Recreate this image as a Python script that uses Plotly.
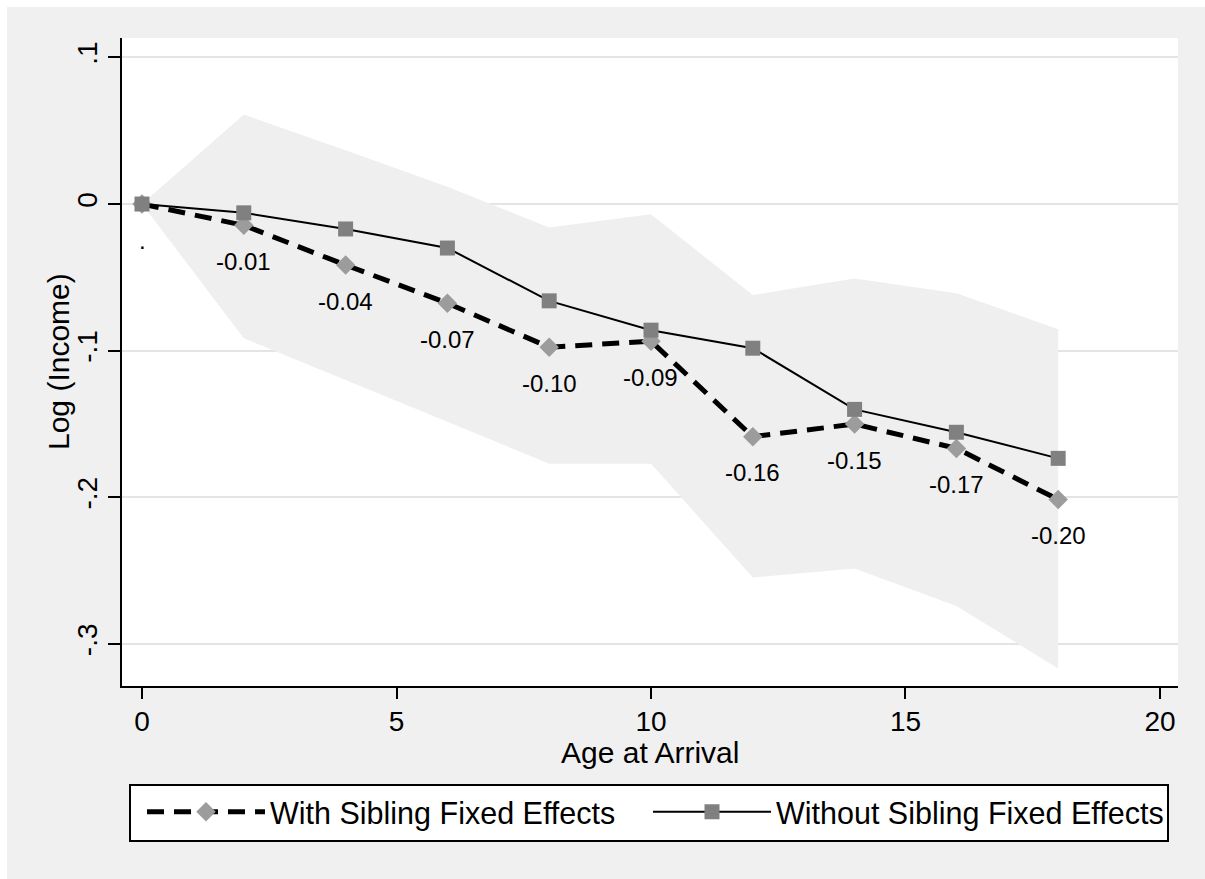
import plotly.graph_objects as go

# ---------------- data ----------------
ages = [0, 2, 4, 6, 8, 10, 12, 14, 16, 18]
with_fe = [0.0, -0.0145, -0.0416, -0.0676, -0.0976, -0.0935, -0.1586, -0.1500, -0.1666, -0.2015]
without_fe = [0.0, -0.0060, -0.0170, -0.0300, -0.0660, -0.0860, -0.0983, -0.1400, -0.1556, -0.1734]
ci_upper = [0.0, 0.0610, 0.0366, 0.0118, -0.0160, -0.0070, -0.0620, -0.0507, -0.0609, -0.0853]
ci_lower = [0.0, -0.0915, -0.1200, -0.1486, -0.1770, -0.1770, -0.2546, -0.2485, -0.2740, -0.3167]
with_fe_labels = [".", "-0.01", "-0.04", "-0.07", "-0.10", "-0.09", "-0.16", "-0.15", "-0.17", "-0.20"]

x_ticks = [0, 5, 10, 15, 20]
y_ticks = [-0.3, -0.2, -0.1, 0.0, 0.1]
y_tick_text = ["-.3", "-.2", "-.1", "0", ".1"]

series_names = ["With Sibling Fixed Effects", "Without Sibling Fixed Effects"]
x_title = "Age at Arrival"
y_title = "Log (Income)"

# ---------------- layout geometry ----------------
W, H = 1205, 879
ML, MR, MT, MB = 122, 27, 38, 193
PW, PH = W - ML - MR, H - MT - MB

def px_x(p):
    return (p - ML) / PW

def px_y(p):
    return (H - MB - p) / PH

FONT = "Liberation Sans, Arial, sans-serif"
BG = "#f0f0f0"

fig = go.Figure()

# confidence band
fig.add_trace(go.Scatter(x=ages, y=ci_lower, mode="lines", line=dict(width=0, color=BG),
                         showlegend=False, hoverinfo="skip"))
fig.add_trace(go.Scatter(x=ages, y=ci_upper, mode="lines", line=dict(width=0, color=BG),
                         fill="tonexty", fillcolor="#efefef", showlegend=False, hoverinfo="skip"))

# with sibling FE (dashed, diamonds)
fig.add_trace(go.Scatter(x=ages, y=with_fe, mode="lines+markers", name=series_names[0],
                         legendwidth=373,
                         line=dict(color="black", width=5, dash="17px,10px"),
                         marker=dict(symbol="diamond", size=15, color="#9c9c9c",
                                     line=dict(width=0))))
# without sibling FE (solid, squares)
fig.add_trace(go.Scatter(x=ages, y=without_fe, mode="lines+markers", name=series_names[1],
                         legendwidth=400,
                         line=dict(color="black", width=2),
                         marker=dict(symbol="square", size=15, color="#808080",
                                     line=dict(width=0))))

annotations = []
for a, v, t in zip(ages, with_fe, with_fe_labels):
    annotations.append(dict(x=a, y=v, xref="x", yref="y", text=t, showarrow=False,
                            yshift=-36, xanchor="center", yanchor="middle",
                            font=dict(family=FONT, size=24, color="black")))

# axis titles
annotations.append(dict(x=0.5, y=px_y(753), xref="paper", yref="paper", text=x_title,
                        showarrow=False, xanchor="center", yanchor="middle",
                        font=dict(family=FONT, size=30, color="black")))
annotations.append(dict(x=px_x(58), y=0.5, xref="paper", yref="paper", text=y_title,
                        textangle=-90, showarrow=False, xanchor="center", yanchor="middle",
                        font=dict(family=FONT, size=30, color="black")))

shapes = [
    # white strip at the left and top of the image
    dict(type="rect", xref="paper", yref="paper", xsizemode="pixel", xanchor=0,
         x0=-ML, x1=-ML + 7, y0=-2, y1=2, fillcolor="white", line=dict(width=0), layer="below"),
    dict(type="rect", xref="paper", yref="paper", ysizemode="pixel", yanchor=1,
         y0=MT, y1=MT - 7, x0=-2, x1=2, fillcolor="white", line=dict(width=0), layer="below"),
    # legend box
    dict(type="rect", xref="paper", yref="paper", x0=px_x(130), x1=px_x(1168),
         y0=px_y(841), y1=px_y(785), fillcolor="white", line=dict(color="black", width=2),
         layer="below"),
]

fig.update_layout(
    width=W, height=H,
    margin=dict(l=ML, r=MR, t=MT, b=MB, pad=0),
    paper_bgcolor=BG, plot_bgcolor="white",
    font=dict(family=FONT, color="black"),
    showlegend=True,
    legend=dict(orientation="h", traceorder="normal", x=px_x(142), xanchor="left",
                y=px_y(812), yanchor="middle",
                bgcolor="rgba(0,0,0,0)", borderwidth=0, itemwidth=118,
                font=dict(family=FONT, size=30.5, color="black"), itemclick=False),
    annotations=annotations,
    shapes=shapes,
    xaxis=dict(range=[-0.393, 20.354], tickvals=x_ticks, ticks="outside", ticklen=11,
               tickwidth=2, tickcolor="black", showline=True, linecolor="black", linewidth=2,
               showgrid=False, zeroline=False, tickfont=dict(size=28), ticklabelstandoff=-2),
    yaxis=dict(range=[-0.3286, 0.1132], tickvals=y_ticks, ticktext=y_tick_text,
               ticks="outside", ticklen=12, tickwidth=2, tickcolor="black", tickangle=-90,
               showline=True, linecolor="black", linewidth=2,
               showgrid=True, gridcolor="#e4e4e4", gridwidth=2, zeroline=False,
               tickfont=dict(size=28)),
)

fig.write_html("out.html")
